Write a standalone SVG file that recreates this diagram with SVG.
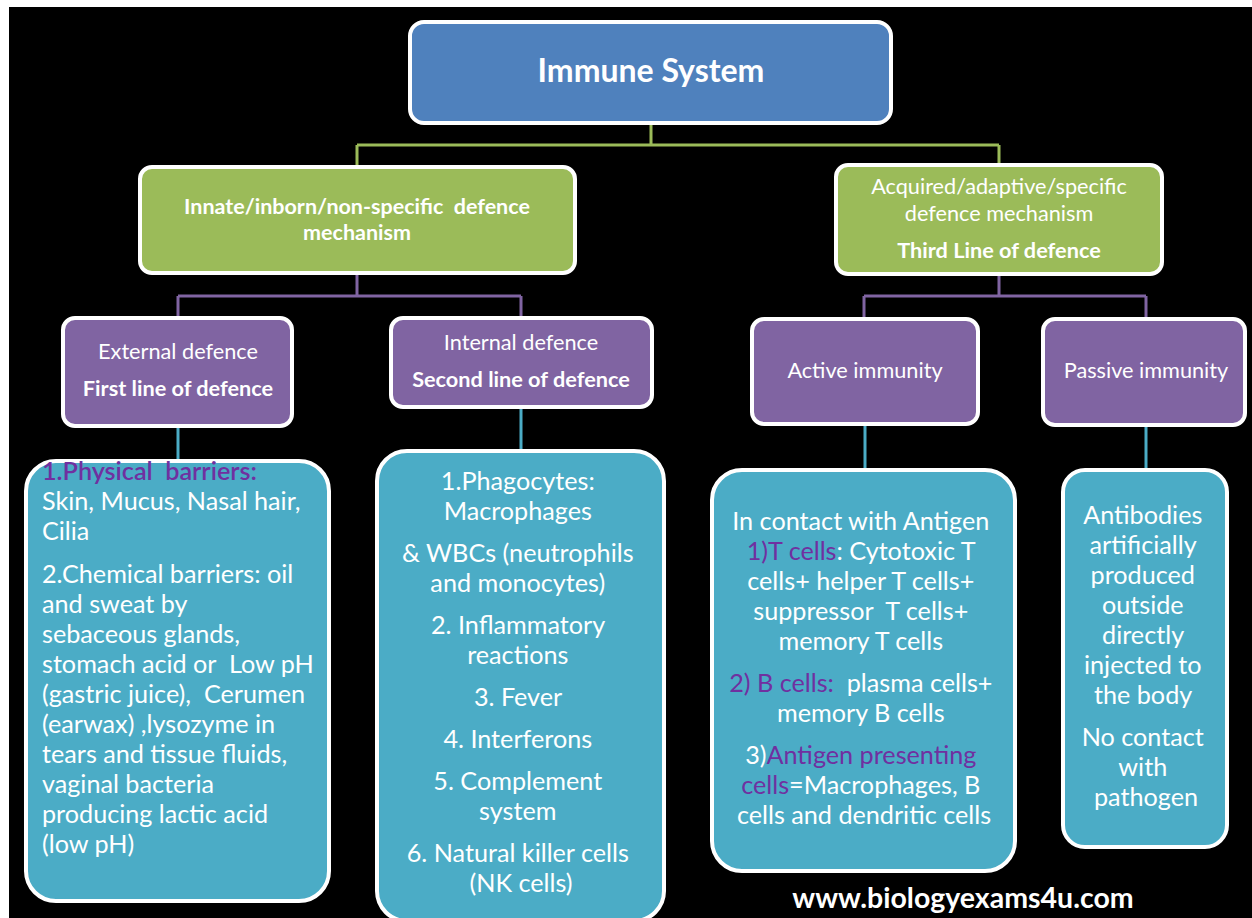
<svg xmlns="http://www.w3.org/2000/svg" width="1252" height="918" viewBox="0 0 1252 918">
<style>
.box{stroke:#fff;stroke-width:4}
.blue{fill:#4F81BD}.green{fill:#9BBB59}.purple{fill:#8064A2}.teal{fill:#4BACC6}
text{font-family:Lato,"Open Sans","Liberation Sans",sans-serif;fill:#fff}
.b{font-weight:bold}
.c{text-anchor:middle}
.hl{fill:#7030A0}
.lbl{font-size:21.7px}
.body{font-size:25.2px}
.cg{stroke:#9BBB59;stroke-width:3;fill:none}
.cp{stroke:#8064A2;stroke-width:3;fill:none}
.ct{stroke:#4BACC6;stroke-width:3;fill:none}
</style>
<rect x="0" y="0" width="1252" height="918" fill="#fff"/>
<rect x="9" y="7" width="1243" height="911" fill="#000"/>
<g id="connectors">
<path class="cg" d="M651 125V145M357 145H999M357 145V165M999 145V163"/>
<path class="cp" d="M357 275V296M178 296H521M178 296V316M521 296V316"/>
<path class="cp" d="M999 276V296M864 296H1146M864 296V317M1146 296V317"/>
<path class="ct" d="M178 428V459M521 409V449M865 426V468M1146 427V468"/>
</g>
<g id="immune">
<rect class="box blue" x="410" y="22" width="481" height="101" rx="14"/>
<text class="b c" x="651" y="82" font-size="32">Immune System</text>
</g>
<g id="innate">
<rect class="box green" x="140" y="167" width="435" height="106" rx="12"/>
<text class="b c" x="357" y="214" font-size="21.5">Innate/inborn/non-specific&#160; defence</text>
<text class="b c" x="357" y="240" font-size="21.5">mechanism</text>
</g>
<g id="acquired">
<rect class="box green" x="836" y="165" width="326" height="109" rx="12"/>
<text class="c lbl" x="999" y="194">Acquired/adaptive/specific</text>
<text class="c lbl" x="999" y="221">defence mechanism</text>
<text class="b c lbl" x="999" y="258">Third Line of defence</text>
</g>
<g id="external">
<rect class="box purple" x="63" y="318" width="229" height="108" rx="12"/>
<text class="c lbl" x="178" y="359">External defence</text>
<text class="b c lbl" x="178" y="396">First line of defence</text>
</g>
<g id="internal">
<rect class="box purple" x="391" y="318" width="261" height="89" rx="12"/>
<text class="c lbl" x="521" y="350">Internal defence</text>
<text class="b c lbl" x="521" y="387">Second line of defence</text>
</g>
<g id="active">
<rect class="box purple" x="752" y="319" width="226" height="105" rx="12"/>
<text class="c lbl" x="865" y="378">Active immunity</text>
</g>
<g id="passive">
<rect class="box purple" x="1043" y="319" width="202" height="106" rx="12"/>
<text class="c lbl" x="1146" y="378">Passive immunity</text>
</g>
<g id="external-list">
<rect class="box teal" x="26" y="461" width="303" height="440" rx="30"/>
<text class="body" x="42">
<tspan class="hl" style="font-weight:600" x="42" y="480">1.Physical&#160; barriers:</tspan>
<tspan x="42" y="510">Skin, Mucus, Nasal hair,</tspan>
<tspan x="42" y="540">Cilia</tspan>
<tspan x="42" y="583">2.Chemical barriers: oil</tspan>
<tspan x="42" y="613">and sweat by</tspan>
<tspan x="42" y="643">sebaceous glands,</tspan>
<tspan x="42" y="673">stomach acid or&#160; Low pH</tspan>
<tspan x="42" y="703">(gastric juice),&#160; Cerumen</tspan>
<tspan x="42" y="733">(earwax) ,lysozyme in</tspan>
<tspan x="42" y="763">tears and tissue fluids,</tspan>
<tspan x="42" y="793">vaginal bacteria</tspan>
<tspan x="42" y="823">producing lactic acid</tspan>
<tspan x="42" y="853">(low pH)</tspan>
</text>
</g>
<g id="internal-list">
<rect class="box teal" x="377" y="451" width="287" height="470" rx="30"/>
<text class="body c">
<tspan x="521" y="490">1.Phagocytes:</tspan>
<tspan x="521" y="520">Macrophages</tspan>
<tspan x="521" y="562">&amp; WBCs (neutrophils</tspan>
<tspan x="521" y="592">and monocytes)</tspan>
<tspan x="521" y="634">2. Inflammatory</tspan>
<tspan x="521" y="664">reactions</tspan>
<tspan x="521" y="706">3. Fever</tspan>
<tspan x="521" y="748">4. Interferons</tspan>
<tspan x="521" y="790">5. Complement</tspan>
<tspan x="521" y="820">system</tspan>
<tspan x="521" y="862">6. Natural killer cells</tspan>
<tspan x="521" y="892">(NK cells)</tspan>
</text>
</g>
<g id="active-list">
<rect class="box teal" x="712" y="470" width="303" height="401" rx="30"/>
<text class="body c">
<tspan x="864" y="530">In contact with Antigen</tspan>
<tspan x="864" y="560"><tspan class="hl">1)T cells</tspan>: Cytotoxic T</tspan>
<tspan x="864" y="590">cells+ helper T cells+</tspan>
<tspan x="864" y="620">suppressor&#160; T cells+</tspan>
<tspan x="864" y="650">memory T cells</tspan>
<tspan x="864" y="692"><tspan class="hl">2) B cells:</tspan>&#160; plasma cells+</tspan>
<tspan x="864" y="722">memory B cells</tspan>
<tspan x="864" y="764">3)<tspan class="hl">Antigen presenting</tspan></tspan>
<tspan x="864" y="794"><tspan class="hl">cells</tspan>=Macrophages, B</tspan>
<tspan x="864" y="824">cells and dendritic cells</tspan>
</text>
</g>
<g id="passive-list">
<rect class="box teal" x="1063" y="470" width="164" height="377" rx="22"/>
<text class="body c">
<tspan x="1146" y="524">Antibodies</tspan>
<tspan x="1146" y="554">artificially</tspan>
<tspan x="1146" y="584">produced</tspan>
<tspan x="1146" y="614">outside</tspan>
<tspan x="1146" y="644">directly</tspan>
<tspan x="1146" y="674">injected to</tspan>
<tspan x="1146" y="704">the body</tspan>
<tspan x="1146" y="746">No contact</tspan>
<tspan x="1146" y="776">with</tspan>
<tspan x="1146" y="806">pathogen</tspan>
</text>
</g>
<g id="website">
<text class="b c" x="963" y="908" font-size="28.5">www.biologyexams4u.com</text>
</g>
</svg>
